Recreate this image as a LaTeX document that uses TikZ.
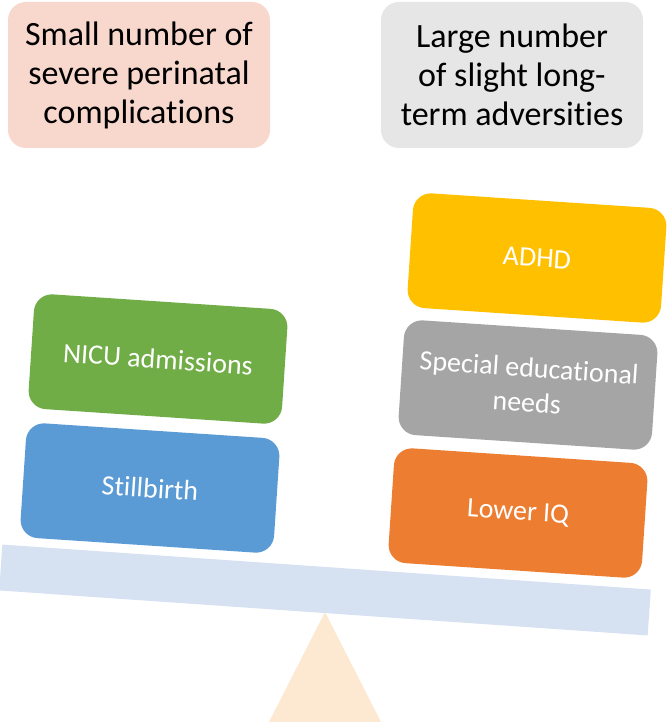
\documentclass[tikz,border=0pt]{standalone}
\usepackage{fontspec}
\setmainfont{Carlito}[Ligatures=NoCommon]
\usetikzlibrary{calc}
\definecolor{pinkbox}{RGB}{248,215,205}
\definecolor{greybox}{RGB}{231,230,230}
\definecolor{nicugreen}{RGB}{112,173,71}
\definecolor{stillblue}{RGB}{91,155,213}
\definecolor{adhdyellow}{RGB}{255,192,0}
\definecolor{sengrey}{RGB}{165,165,165}
\definecolor{iqorange}{RGB}{237,125,49}
\definecolor{beamblue}{RGB}{214,225,241}
\definecolor{fulcrumtan}{RGB}{253,232,210}

\begin{document}
\begin{tikzpicture}[x=1pt, y=-1pt, line join=round, line cap=round,
	headbox/.style={rounded corners=18pt, minimum width=262pt, minimum height=146pt, align=center, font=\fontsize{34}{39}\selectfont},
	itembox/.style={rounded corners=18pt, minimum width=254pt, minimum height=115pt, align=center, text=white, rotate=-3.8, font=\fontsize{28}{35}\selectfont}]
	\useasboundingbox (0,0) rectangle (669,722);
	% heading boxes
	\node[headbox, fill=pinkbox] (smallbox) at (139,75) {Small number of\\severe perinatal\\complications};
	\node[headbox, fill=greybox] (largebox) at (512,75) {Large number\\of slight long-\\term adversities};
	% fulcrum and beam
	\fill[fulcrumtan] (325,612) -- (269,722) -- (381,722) -- cycle;
	\node[fill=beamblue, rotate=-3.97, minimum width=650pt, minimum height=46pt, inner sep=0pt] (beam) at (325,590) {};
	% left pan
	\node[itembox, fill=stillblue] (stillbirth) at (150,488) {Stillbirth};
	\node[itembox, fill=nicugreen] (nicu) at (158,359) {NICU admissions};
	% right pan
	\node[itembox, fill=iqorange] (loweriq) at (518,513) {Lower IQ};
	\node[itembox, fill=sengrey] (sen) at (528,385) {Special educational\\needs};
	\node[itembox, fill=adhdyellow] (adhd) at (537,258) {ADHD};
\end{tikzpicture}
\end{document}
